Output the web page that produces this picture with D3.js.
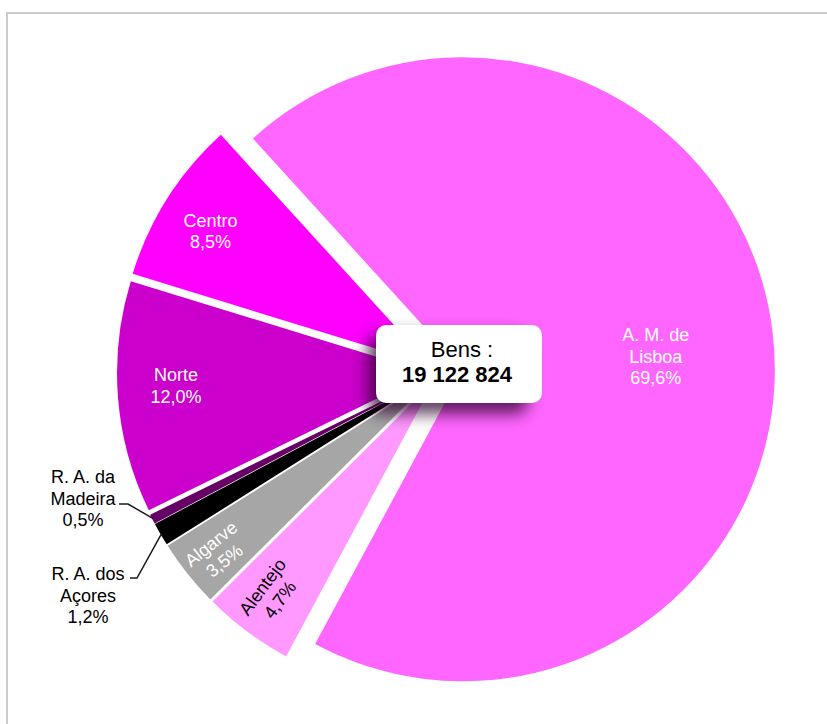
<!DOCTYPE html>
<html>
<head>
<meta charset="utf-8">
<script src="https://cdn.jsdelivr.net/npm/d3@7"></script>
<style>
  body { margin: 0; background: #fff; }
  text { font-family: "Liberation Sans", Arial, sans-serif; }
</style>
</head>
<body>
<script>
// data
var categories = ["A. M. de Lisboa", "Alentejo", "Algarve", "R. A. dos Açores", "R. A. da Madeira", "Norte", "Centro"];
var labelLines = [["A. M. de", "Lisboa"], ["Alentejo"], ["Algarve"], ["R. A. dos", "Açores"], ["R. A. da", "Madeira"], ["Norte"], ["Centro"]];
var shares = [69.6, 4.7, 3.5, 1.2, 0.5, 12.0, 8.5];
var totalLabel = "Bens :";
var total = 19122824;

// styles / layout
var colors = ["#ff66ff", "#ff99ff", "#a6a6a6", "#000000", "#660066", "#cc00cc", "#ff00ff"];
var textColors = ["#fff", "#000", "#fff", "#000", "#000", "#fff", "#fff"];
var explode = [22, 12, 12, 12, 12, 12, 12];
var labelRadius = [0.62, 0.855, 0.88, null, null, 0.81, 0.825];
var labelNudge = [[1, 11], [-3, -2], [1, 2], null, null, [-1, -7], [-3, 4]];
var rotateLabel = [false, true, true, false, false, false, false];
var outsideLabels = {
    3: { elbow: [137, 578], end: [130, 578], x: 88, y: 580 },
    4: { elbow: [128, 504], end: [119, 504], x: 83, y: 483 }
};

var width = 827, height = 724;
var cx = 441, cy = 372, R = 312;
var startDeg = -42.3;
var lineH = 21.5;

var pctFormat = function(v) { return d3.format(".1f")(v).replace(".", ",") + "%"; };
var numFormat = function(v) { return d3.format(",")(v).replace(/,/g, " "); };

var svg = d3.select("body").append("svg")
    .attr("width", width)
    .attr("height", height);

var defs = svg.append("defs");
defs.append("filter").attr("id", "blur")
    .attr("x", "-50%").attr("y", "-50%").attr("width", "200%").attr("height", "200%")
  .append("feGaussianBlur")
    .attr("stdDeviation", 8);

// chart area frame
svg.append("path")
    .attr("d", "M7," + height + "V13H" + width)
    .attr("fill", "none")
    .attr("stroke", "#cccccc")
    .attr("stroke-width", 2);

var data = categories.map(function(c, i) {
    return { name: c, share: shares[i], i: i };
});

var pie = d3.pie()
    .sort(null)
    .value(function(d) { return d.share; })
    .startAngle(startDeg * Math.PI / 180)
    .endAngle(startDeg * Math.PI / 180 + 2 * Math.PI);

var arc = d3.arc().innerRadius(0).outerRadius(R);
var arcs = pie(data);

arcs.forEach(function(a) {
    var i = a.data.i;
    a.mid = (a.startAngle + a.endAngle) / 2;
    a.ox = cx + explode[i] * Math.sin(a.mid);
    a.oy = cy - explode[i] * Math.cos(a.mid);
});

var g = svg.append("g").attr("class", "slices");

g.selectAll("path")
    .data(arcs)
    .enter().append("path")
        .attr("transform", function(d) { return "translate(" + d.ox + "," + d.oy + ")"; })
        .attr("d", arc)
        .attr("fill", function(d) { return colors[d.data.i]; });

// labels inside slices
var inside = arcs.filter(function(d) { return labelRadius[d.data.i] != null; });

var labels = svg.append("g").attr("class", "labels")
    .selectAll("text")
    .data(inside)
    .enter().append("text")
        .attr("text-anchor", "middle")
        .attr("font-size", 18)
        .attr("fill", function(d) { return textColors[d.data.i]; })
        .attr("transform", function(d) {
            var i = d.data.i;
            var k = labelRadius[i] * R;
            var x = d.ox + k * Math.sin(d.mid) + labelNudge[i][0];
            var y = d.oy - k * Math.cos(d.mid) + labelNudge[i][1];
            var rot = rotateLabel[i] ? d.mid * 180 / Math.PI - 270 : 0;
            return "translate(" + x + "," + y + ") rotate(" + rot + ")";
        });

labels.each(function(d) {
    var lines = labelLines[d.data.i].concat([pctFormat(d.data.share)]);
    var n = lines.length;
    d3.select(this).selectAll("tspan")
        .data(lines)
        .enter().append("tspan")
            .attr("x", 0)
            .attr("y", function(t, k) { return (k - (n - 1) / 2) * lineH + 6; })
            .text(function(t) { return t; });
});

// labels outside with leader lines
var outside = arcs.filter(function(d) { return outsideLabels[d.data.i]; });

svg.append("g").attr("class", "leaders")
    .selectAll("path")
    .data(outside)
    .enter().append("path")
        .attr("fill", "none")
        .attr("stroke", "#1a1a1a")
        .attr("stroke-width", 1.5)
        .attr("d", function(d) {
            var o = outsideLabels[d.data.i];
            var px = d.ox + (R - 1) * Math.sin(d.mid);
            var py = d.oy - (R - 1) * Math.cos(d.mid);
            return "M" + px + "," + py + "L" + o.elbow[0] + "," + o.elbow[1] + "L" + o.end[0] + "," + o.end[1];
        });

var outText = svg.append("g").attr("class", "outside-labels")
    .selectAll("text")
    .data(outside)
    .enter().append("text")
        .attr("text-anchor", "middle")
        .attr("font-size", 18)
        .attr("fill", "#000");

outText.each(function(d) {
    var o = outsideLabels[d.data.i];
    var lines = labelLines[d.data.i].concat([pctFormat(d.data.share)]);
    d3.select(this).selectAll("tspan")
        .data(lines)
        .enter().append("tspan")
            .attr("x", o.x)
            .attr("y", function(t, k) { return o.y + k * 21.5; })
            .text(function(t) { return t; });
});

// centre box with soft shadow
var box = svg.append("g").attr("class", "total");
box.append("rect")
    .attr("x", 368).attr("y", 334)
    .attr("width", 160).attr("height", 80)
    .attr("rx", 12)
    .attr("fill", "#2a002a")
    .attr("opacity", 0.75)
    .attr("filter", "url(#blur)");
box.append("rect")
    .attr("x", 376).attr("y", 325)
    .attr("width", 166).attr("height", 78)
    .attr("rx", 10)
    .attr("fill", "#fff");
box.append("text")
    .attr("x", 462).attr("y", 357)
    .attr("text-anchor", "middle")
    .attr("font-size", 22)
    .attr("fill", "#000")
    .text(totalLabel);
box.append("text")
    .attr("x", 457).attr("y", 382)
    .attr("text-anchor", "middle")
    .attr("font-size", 22)
    .attr("font-weight", "bold")
    .attr("fill", "#000")
    .text(numFormat(total));
</script>
</body>
</html>
